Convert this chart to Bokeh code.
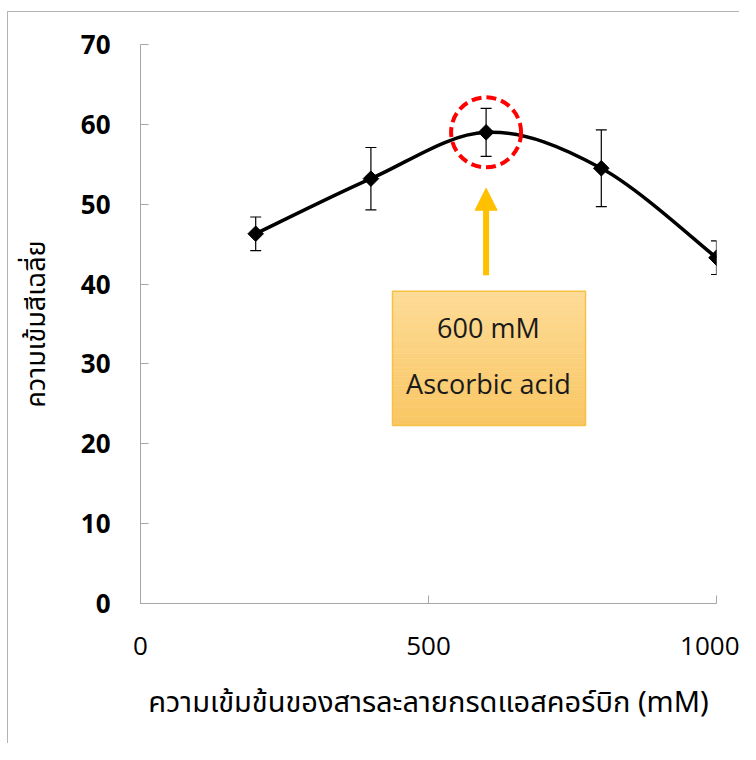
import numpy as np
from bokeh.plotting import figure
from bokeh.models import Range1d, FixedTicker, Whisker, TeeHead, Arrow, NormalHead, ColumnDataSource
from bokeh.core.properties import value
from bokeh.embed import file_html
from bokeh.resources import INLINE

# ---- data ----
conc = [200, 400, 600, 800, 1000]
mean_color = [46.3, 53.2, 59.0, 54.5, 43.3]
err = [2.1, 3.9, 3.0, 4.8, 2.1]
x_ticks = [0, 500, 1000]
y_ticks = [0, 10, 20, 30, 40, 50, 60, 70]
x_title = "ความเข้มข้นของสารละลายกรดแอสคอร์บิก (mM)"
y_title = "ความเข้มสีเฉลี่ย"
note_lines = ["600 mM", "Ascorbic acid"]
highlight_x = 600

THAI = "Noto Sans Thai, Loma, Garuda, Tlwg Typist, sans-serif"

p = figure(width=732, height=732, output_backend="svg", toolbar_location=None,
           x_range=Range1d(0, 1000), y_range=Range1d(0, 70),
           min_border_left=132, min_border_right=24, min_border_top=32, min_border_bottom=141)
p.styles = {"border-top": "1px solid #b4b4b4", "border-left": "1px solid #b4b4b4",
            "margin-top": "11px", "margin-left": "7px"}
p.outline_line_color = None
p.grid.visible = False
p.background_fill_color = "white"
p.border_fill_color = "white"

for ax in (p.xaxis[0], p.yaxis[0]):
    ax.axis_line_color = "#a6a6a6"
    ax.major_tick_line_color = "#a6a6a6"
    ax.major_tick_in = 8
    ax.major_tick_out = 0
    ax.minor_tick_line_color = None
    ax.major_label_text_color = "black"
    ax.major_label_text_font = "Open Sans"
    ax.major_label_text_font_size = "26px"
    ax.axis_label_text_font_style = "normal"
    ax.axis_label_text_color = "black"
    ax.axis_label_text_font = THAI

p.xaxis.ticker = FixedTicker(ticks=x_ticks)
p.yaxis.ticker = FixedTicker(ticks=y_ticks)
p.yaxis.major_label_text_font_style = "bold"
p.yaxis.major_label_standoff = 30
p.xaxis.major_label_standoff = 33
p.xaxis.axis_label = x_title
p.yaxis.axis_label = y_title
p.xaxis.axis_label_text_font_size = "29px"
p.yaxis.axis_label_text_font_size = "27px"
p.xaxis.axis_label_standoff = 23
p.yaxis.axis_label_standoff = 21

# ---- smoothed line (Catmull-Rom style bezier, like spreadsheet smoothing) ----
xs = np.array(conc, float)
ys = np.array(mean_color, float)
n = len(xs)
x0, y0, x1, y1, cx0, cy0, cx1, cy1 = [], [], [], [], [], [], [], []
for i in range(n - 1):
    pm = i - 1 if i > 0 else i
    pp = i + 2 if i + 2 < n else i + 1
    x0.append(xs[i]); y0.append(ys[i]); x1.append(xs[i + 1]); y1.append(ys[i + 1])
    cx0.append(xs[i] + (xs[i + 1] - xs[pm]) / 6); cy0.append(ys[i] + (ys[i + 1] - ys[pm]) / 6)
    cx1.append(xs[i + 1] - (xs[pp] - xs[i]) / 6); cy1.append(ys[i + 1] - (ys[pp] - ys[i]) / 6)
p.bezier(x0=x0, y0=y0, x1=x1, y1=y1, cx0=cx0, cy0=cy0, cx1=cx1, cy1=cy1,
         line_color="black", line_width=3.5)

# ---- error bars ----
src = ColumnDataSource(dict(x=conc, y=mean_color,
                            lo=[m - e for m, e in zip(mean_color, err)],
                            hi=[m + e for m, e in zip(mean_color, err)]))
p.add_layout(Whisker(source=src, base="x", lower="lo", upper="hi", line_color="black", line_width=1.2,
                     lower_head=TeeHead(size=11, line_color="black", line_width=1.2),
                     upper_head=TeeHead(size=11, line_color="black", line_width=1.2)))

# ---- markers ----
p.scatter("x", "y", source=src, marker="square", angle=np.pi / 4, size=11,
          fill_color="black", line_color="black")

# ---- highlight circle ----
hi_idx = conc.index(highlight_x)
p.circle(x=[highlight_x], y=[mean_color[hi_idx]], radius=35, radius_units="screen",
         fill_color=None, line_color="#ff0000", line_width=4, line_dash="10 5")

# ---- arrow ----
p.add_layout(Arrow(x_start=highlight_x, y_start=41.1, x_end=highlight_x, y_end=52.0,
                   line_color="#ffc000", line_width=6,
                   end=NormalHead(size=22, fill_color="#ffc000", line_color="#ffc000", line_width=1)))

# ---- note box with vertical gradient ----
bl, br, bb, bt = 437.5, 772.6, 22.3, 39.1
steps = 30
top_rgb = np.array([0xfd, 0xdb, 0x96])
bot_rgb = np.array([0xf9, 0xc6, 0x63])
edges = np.linspace(bt, bb, steps + 1)
cols = []
for k in range(steps):
    t = (k + 0.5) / steps
    c = (top_rgb * (1 - t) + bot_rgb * t).round().astype(int)
    cols.append("#%02x%02x%02x" % tuple(c))
p.quad(left=[bl] * steps, right=[br] * steps, top=list(edges[:-1]), bottom=list(edges[1:]),
       fill_color=cols, line_color=cols, line_width=0.5)
p.quad(left=[bl], right=[br], top=[bt], bottom=[bb], fill_color=None,
       line_color="#f6c146", line_width=1.5)
p.text(x=[highlight_x + 4, highlight_x + 4], y=[34.6, 27.5], text=note_lines,
       text_align="center", text_baseline="middle", text_font=value("Open Sans"),
       text_font_size="27px", text_color="#1a1a1a")

open("out.html", "w").write(file_html(p, INLINE))
